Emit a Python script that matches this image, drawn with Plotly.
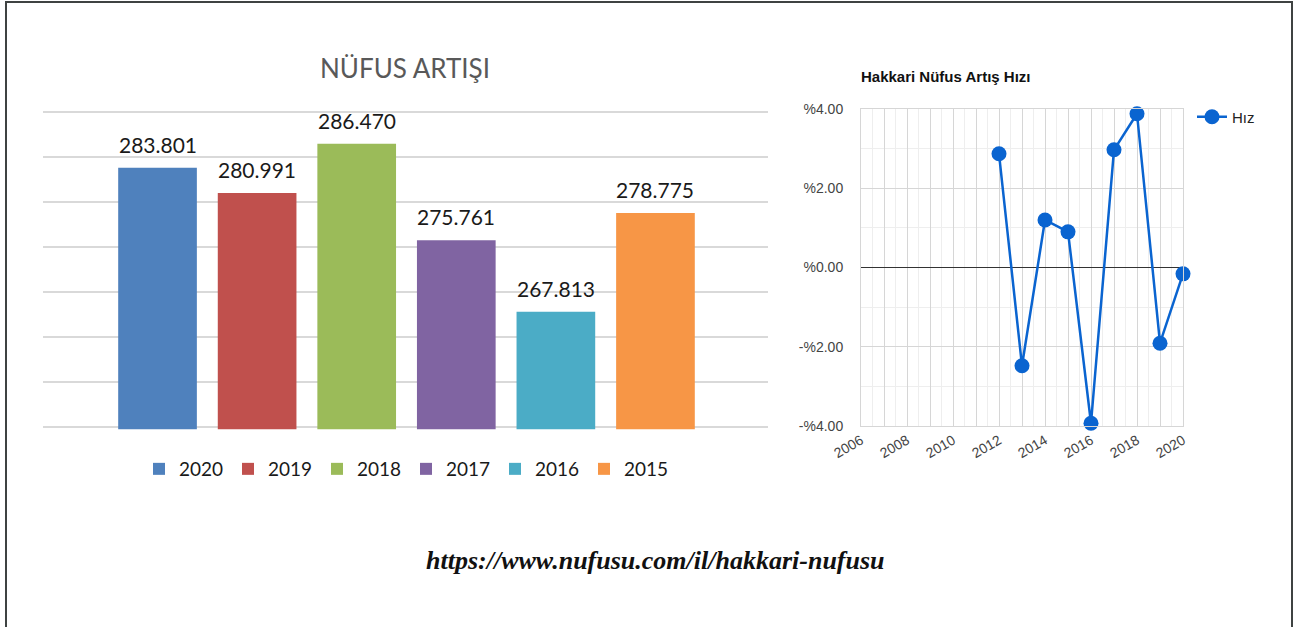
import plotly.graph_objects as go

# ---------------- data ----------------
years = ["2020", "2019", "2018", "2017", "2016", "2015"]
population = [283801, 280991, 286470, 275761, 267813, 278775]
bar_colors = ["#4f81bd", "#c0504d", "#9bbb59", "#8064a2", "#4bacc6", "#f79646"]
bar_grid_ticks = list(range(255000, 290001, 5000))

rate_years = [2012, 2013, 2014, 2015, 2016, 2017, 2018, 2019, 2020]
rate_values = [2.87, -2.48, 1.20, 0.90, -3.93, 2.97, 3.88, -1.91, -0.16]
rate_x_ticks = list(range(2006, 2021))
rate_x_text = [str(y) if y % 2 == 0 else "" for y in rate_x_ticks]
rate_y_ticks = [4, 2, 0, -2, -4]


def pct_label(v):
    return ("-%" if v < 0 else "%") + f"{abs(v):.2f}"


rate_y_text = [pct_label(v) for v in rate_y_ticks]

W, H = 1311, 627


def px(x):
    return x / W


def py(y):
    return 1 - y / H


BAR_FONT = "Lato, 'Open Sans', sans-serif"
ARIAL = "'Liberation Sans', Arial, sans-serif"

fig = go.Figure()

for yr, val, col in zip(years, population, bar_colors):
    fig.add_trace(go.Bar(
        x=[yr], y=[val], name=yr, marker=dict(color=col, line=dict(width=0)),
        width=0.79, xaxis="x", yaxis="y", legend="legend",
        hoverinfo="skip",
    ))

fig.add_trace(go.Scatter(
    x=rate_years, y=rate_values, name="Hız", mode="lines+markers",
    line=dict(color="#0a64d0", width=2.5),
    marker=dict(color="#0a64d0", size=15),
    xaxis="x2", yaxis="y2", legend="legend2", cliponaxis=False,
))

annotations = []
for i, val in enumerate(population):
    annotations.append(dict(
        x=i, y=val, xref="x", yref="y", text=f"{val:,}".replace(",", "."),
        showarrow=False, yanchor="bottom", yshift=9,
        font=dict(family=BAR_FONT, size=21, color="#1a1a1a"),
    ))

annotations += [
    dict(x=px(405), y=py(68), xref="paper", yref="paper", text="NÜFUS ARTIŞI",
         showarrow=False, xanchor="center", yanchor="middle",
         font=dict(family=BAR_FONT, size=26, color="#595959")),
    dict(x=px(859), y=py(76), xref="paper", yref="paper",
         text="<b>Hakkari Nüfus Artış Hızı</b>",
         showarrow=False, xanchor="left", yanchor="middle",
         font=dict(family=ARIAL, size=15, color="#111111")),
    dict(x=px(655), y=py(560), xref="paper", yref="paper",
         text="<b><i>https://www.nufusu.com/il/hakkari-nufusu</i></b>",
         showarrow=False, xanchor="center", yanchor="middle",
         font=dict(family="'Liberation Serif', 'Times New Roman', serif", size=26, color="#111111")),
]

fig.update_layout(
    width=W, height=H,
    margin=dict(l=0, r=0, t=0, b=0, autoexpand=False),
    paper_bgcolor="white", plot_bgcolor="white",
    barmode="overlay",
    showlegend=True,
    xaxis=dict(domain=[px(43), px(768)], type="category", categoryorder="array",
               categoryarray=years, range=[-1.15, 6.13], showticklabels=False,
               showgrid=False, zeroline=False, showline=False, ticks="",
               automargin=False),
    yaxis=dict(domain=[py(429.25), py(109.75)], range=[254750, 290250],
               tickvals=bar_grid_ticks, showticklabels=False,
               showgrid=True, gridcolor="#d9d9d9", gridwidth=1.5,
               zeroline=False, showline=False, ticks="", automargin=False),
    xaxis2=dict(domain=[px(861), px(1183)], range=[2006, 2020],
                tickvals=rate_x_ticks, ticktext=rate_x_text, tickangle=-30,
                tickfont=dict(family=ARIAL, size=14, color="#444444"),
                showgrid=True, gridcolor="#d6d6d6", gridwidth=1,
                minor=dict(dtick=0.5, showgrid=True, gridcolor="#eeeeee", gridwidth=1),
                zeroline=False, showline=True, linecolor="#d6d6d6", mirror=True,
                ticks="", anchor="y2", automargin=False),
    yaxis2=dict(domain=[py(426), py(109)], range=[-4, 4],
                tickvals=rate_y_ticks, ticktext=rate_y_text,
                tickfont=dict(family=ARIAL, size=14, color="#444444"),
                showgrid=True, gridcolor="#d6d6d6", gridwidth=1,
                minor=dict(dtick=1, showgrid=True, gridcolor="#eeeeee", gridwidth=1),
                zeroline=True, zerolinecolor="#333333", zerolinewidth=1,
                showline=True, linecolor="#d6d6d6", mirror=True,
                ticks="outside", ticklen=14, tickcolor="rgba(0,0,0,0)",
                anchor="x2", automargin=False),
    legend=dict(orientation="h", x=px(139), y=py(469), xanchor="left", yanchor="middle",
                font=dict(family=BAR_FONT, size=19, color="#1a1a1a"),
                bgcolor="rgba(0,0,0,0)", entrywidth=44, entrywidthmode="pixels",
                itemclick=False, itemdoubleclick=False),
    legend2=dict(x=px(1192), y=py(117), xanchor="left", yanchor="middle",
                 font=dict(family=ARIAL, size=15, color="#222222"),
                 bgcolor="rgba(0,0,0,0)"),
    annotations=annotations,
    shapes=[dict(type="rect", xref="paper", yref="paper",
                 x0=px(6), x1=px(1292), y0=-0.05, y1=py(2),
                 line=dict(color="#3f4342", width=2), fillcolor="rgba(0,0,0,0)")],
)

fig.write_html("out.html",
               config={"displayModeBar": False},
               post_script="document.body.style.margin='0';document.body.style.overflow='hidden';")
